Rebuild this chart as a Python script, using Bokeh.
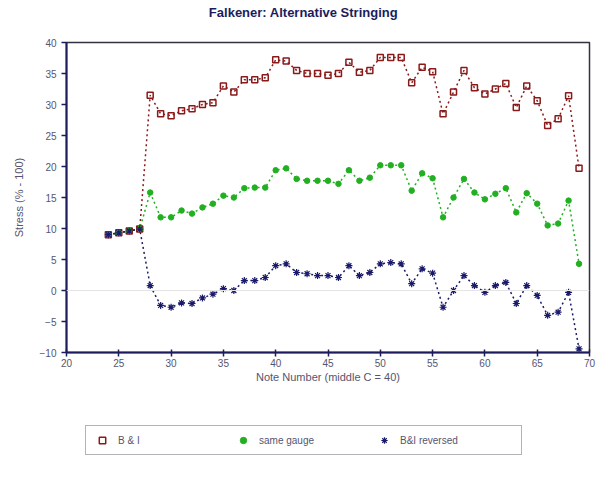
from bokeh.plotting import figure
from bokeh.layouts import column
from bokeh.models import Legend, LegendItem, FixedTicker, Span, Range1d, Label
from bokeh.embed import file_html
from bokeh.resources import INLINE

notes = list(range(24, 70))

bi = [9.0, 9.3, 9.6, 9.9,
      31.5, 28.5, 28.2, 29.0, 29.3, 30.0, 30.3, 33.0, 32.0, 34.0, 34.0, 34.3,
      37.2, 37.0, 35.5, 35.0, 35.0, 34.7, 35.0, 36.8, 35.2, 35.5, 37.6, 37.6,
      37.6, 33.5, 36.0, 35.3, 28.5, 32.0, 35.5, 32.7, 31.7, 32.5, 33.4, 29.5,
      33.0, 30.6, 26.6, 27.7, 31.4, 19.7]

same_gauge = [9.0, 9.3, 9.6, 9.9,
              15.8, 11.8, 11.8, 12.9, 12.4, 13.4, 14.0, 15.3, 15.0, 16.5, 16.6, 16.6,
              19.4, 19.7, 18.0, 17.7, 17.7, 17.7, 17.2, 19.4, 17.7, 18.2, 20.2, 20.2,
              20.2, 16.1, 18.9, 18.1, 11.8, 15.0, 18.0, 15.8, 14.7, 15.6, 16.5, 12.6,
              15.7, 14.0, 10.5, 10.8, 14.5, 4.3]

bi_reversed = [9.0, 9.3, 9.6, 9.9,
               0.8, -2.4, -2.7, -2.0, -2.1, -1.2, -0.6, 0.3, 0.0, 1.6, 1.6, 2.1,
               4.0, 4.3, 2.9, 2.7, 2.4, 2.4, 2.1, 4.0, 2.4, 2.9, 4.3, 4.5,
               4.3, 1.1, 3.5, 2.8, -2.7, 0.0, 2.4, 0.8, -0.3, 0.8, 1.3, -2.1,
               0.8, -0.8, -4.0, -3.5, -0.3, -9.4]

title_text = "Falkener: Alternative Stringing"
series_names = ["B & I", "same gauge", "B&I reversed"]
x_ticks = list(range(20, 71, 5))
y_ticks = list(range(-10, 41, 5))

FONT = "Liberation Sans"
NAVY = "#1c1c5c"
RED = "#8a1a1a"
GREEN = "#22b022"
BLUE = "#1a1a6a"
TXT = "#555570"

W = 600


def bare_figure(h):
    f = figure(width=W, height=h, output_backend="svg", toolbar_location=None,
               x_range=Range1d(0, 1), y_range=Range1d(0, 1),
               x_axis_type=None, y_axis_type=None)
    f.min_border_left = 0
    f.min_border_right = 0
    f.min_border_top = 0
    f.min_border_bottom = 0
    f.grid.visible = False
    f.outline_line_color = None
    return f


# title strip (its frame aligns with the chart frame, which starts at x=66)
tf = bare_figure(22)
tf.add_layout(Label(x=237, y=10, x_units="screen", y_units="screen", text=title_text,
                    text_align="center", text_baseline="middle",
                    text_font=FONT, text_font_size="13px", text_font_style="bold",
                    text_color=NAVY))

p = figure(width=W, height=378, output_backend="svg", toolbar_location=None,
           x_range=Range1d(20, 70), y_range=Range1d(-10, 40))
p.min_border_left = 66
p.min_border_right = 11
p.min_border_top = 20
p.min_border_bottom = 48

p.xgrid.visible = False
p.ygrid.visible = False
p.outline_line_color = "#333340"
p.outline_line_width = 1.5

p.xaxis.ticker = FixedTicker(ticks=x_ticks)
p.yaxis.ticker = FixedTicker(ticks=y_ticks)
p.xaxis.minor_tick_line_color = None
p.yaxis.minor_tick_line_color = None
for ax in (p.xaxis, p.yaxis):
    ax.axis_line_color = NAVY
    ax.axis_line_width = 2
    ax.major_tick_line_color = NAVY
    ax.major_tick_line_width = 1.5
    ax.major_label_text_font = FONT
    ax.major_label_text_font_size = "10px"
    ax.major_label_text_color = TXT
    ax.axis_label_text_font = FONT
    ax.axis_label_text_font_size = "11px"
    ax.axis_label_text_font_style = "normal"
    ax.axis_label_text_color = TXT
p.xaxis.major_tick_out = 4
p.xaxis.major_tick_in = 3
p.xaxis.major_label_standoff = 2
p.xaxis.axis_label_standoff = 1
p.yaxis.major_tick_out = 5
p.yaxis.major_tick_in = 0
p.yaxis.axis_label_standoff = 12
p.xaxis.axis_label = "Note Number (middle C = 40)"
p.yaxis.axis_label = "Stress (% - 100)"

p.add_layout(Span(location=0, dimension="width", line_color="#e4e4e4", line_width=1))

dash = "2 3"
p.line(notes, bi, line_color=RED, line_width=1.5, line_dash=dash)
p.line(notes, same_gauge, line_color=GREEN, line_width=1.5, line_dash=dash)
p.line(notes, bi_reversed, line_color=BLUE, line_width=1.5, line_dash=dash)
p.scatter(notes, bi, marker="square", size=6, fill_color=None, line_color=RED, line_width=1.5)
p.scatter(notes, same_gauge, marker="circle", size=5.5, fill_color=GREEN, line_color=GREEN)
p.scatter(notes, bi_reversed, marker="asterisk", size=7, line_color=BLUE, line_width=1.2)

# legend strip below the chart
lf = bare_figure(76)
l1 = lf.scatter([-5], [-5], marker="square", size=6, fill_color=None, line_color=RED, line_width=1.5)
l2 = lf.scatter([-5], [-5], marker="circle", size=5.5, fill_color=GREEN, line_color=GREEN)
l3 = lf.scatter([-5], [-5], marker="asterisk", size=7, line_color=BLUE, line_width=1.2)

legend = Legend(items=[LegendItem(label=series_names[0], renderers=[l1]),
                       LegendItem(label=series_names[1], renderers=[l2]),
                       LegendItem(label=series_names[2], renderers=[l3])],
                orientation="horizontal", location=(19, 21))
legend.label_text_font = FONT
legend.label_text_font_size = "10px"
legend.label_text_color = TXT
legend.label_width = 115
legend.spacing = 0
legend.glyph_width = 20
legend.glyph_height = 16
legend.label_standoff = 6
legend.padding = 6
legend.margin = 0
legend.border_line_color = "#666670"
legend.border_line_width = 1
lf.add_layout(legend)

layout = column(tf, p, lf, spacing=0)
open("out.html", "w").write(file_html(layout, INLINE))
